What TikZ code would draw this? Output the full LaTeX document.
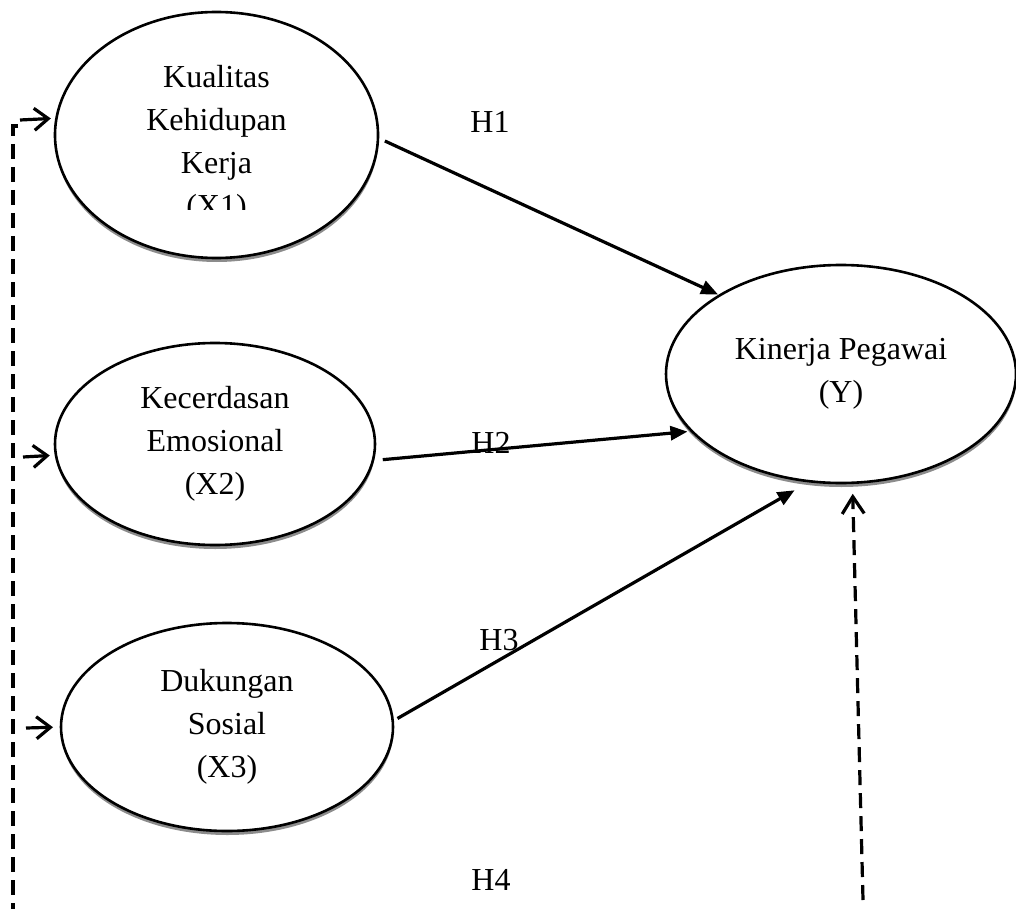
\documentclass[tikz,border=0pt]{standalone}
\usepackage{fontspec}
\setmainfont{Liberation Serif}
\usetikzlibrary{shapes.geometric,arrows.meta,shadows}
\begin{document}
\begin{tikzpicture}[x=1pt,y=-1pt,
  latent/.style={ellipse,draw,line width=2.6pt,fill=white,inner sep=0pt,outer sep=0pt,
    drop shadow={shadow xshift=0.3pt,shadow yshift=-4pt,fill=black!45,opacity=1},
    font=\fontsize{32}{43}\selectfont,align=center},
  txt/.style={font=\fontsize{32}{43}\selectfont,align=center,inner sep=0pt},
  lbl/.style={font=\fontsize{32}{43}\selectfont,anchor=base,inner sep=0pt},
  hyp/.style={line width=3.2pt,-{Triangle[length=17pt,width=14pt]}},
  dashline/.style={line width=3.2pt,dash pattern=on 15pt off 8pt},
  smallarrow/.style={line width=3.2pt,-{Straight Barb[length=14pt,width=22pt]}}
]
\useasboundingbox (0,0) rectangle (1016,909);

% latent variables
\node[latent,minimum width=323pt,minimum height=246pt] (x1) at (216.5,135) {};
\begin{scope}
  \clip (0,0) rectangle (1016,210);
  \node[txt] (x1text) at (216.5,144) {Kualitas\\Kehidupan\\Kerja\\(X1)};
\end{scope}
\node[latent,minimum width=320pt,minimum height=202pt] (x2) at (215,444) {Kecerdasan\\Emosional\\(X2)};
\node[latent,minimum width=332pt,minimum height=208pt] (x3) at (227,727) {Dukungan\\Sosial\\(X3)};
\node[latent,minimum width=350pt,minimum height=218pt] (y) at (841,374) {Kinerja Pegawai\\(Y)};

% hypothesis paths
\draw[hyp,shorten <=7.6pt,shorten >=2pt] (x1.-1.7) -- (y.147);
\draw[hyp,shorten <=10pt,shorten >=4.6pt] (x2.-6.1) -- (y.201.1);
\draw[hyp,shorten <=5.5pt,shorten >=18pt] (x3.2.7) -- (y.254.8);

% labels
\node[lbl] (h1) at (490,133) {H1};
\node[lbl] (h2) at (491,453) {H2};
\node[lbl] (h3) at (499,650) {H3};
\node[lbl] (h4) at (491,890) {H4};

% left dashed line and small arrows
\coordinate (la) at (18,126);
\coordinate (lb) at (13,126);
\coordinate (lc) at (13,912);
\draw[dashline] (la) -- (lb) -- (lc);
\coordinate (t1) at (20,120);
\coordinate (t2) at (23,457);
\coordinate (t3) at (26,728);
\draw[smallarrow,shorten >=5.7pt] (t1) -- (x1.174.8);
\draw[smallarrow,shorten >=6.2pt] (t2) -- (x2.184.5);
\draw[smallarrow,shorten >=8pt] (t3) -- (x3.180.3);

% right dashed arrow
\coordinate (rb) at (863,900);
\draw[dashline,-{Straight Barb[length=17pt,width=22pt]},shorten >=11pt] (rb) -- (y.276.7);
\end{tikzpicture}
\end{document}
